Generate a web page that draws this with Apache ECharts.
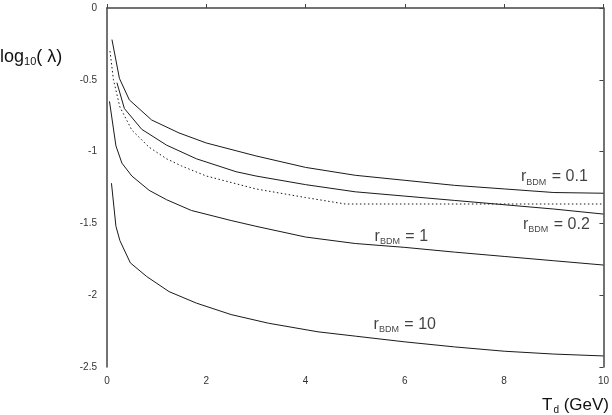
<!DOCTYPE html>
<html>
<head>
<meta charset="utf-8">
<script src="https://cdn.jsdelivr.net/npm/echarts@6/dist/echarts.min.js"></script>
<style>
  html, body { margin: 0; padding: 0; background: #fff; }
  #main { width: 612px; height: 415px; }
</style>
</head>
<body>
<div id="main"></div>
<script>
// curve r_BDM = 0.1
var xR01 = [0.1, 0.25, 0.45, 0.9, 1.45, 2, 3, 4, 5, 6, 7, 8, 9, 10];
var yR01 = [-0.22, -0.49, -0.64, -0.78, -0.87, -0.94, -1.03, -1.11, -1.165, -1.2, -1.235, -1.26, -1.285, -1.29];
// curve r_BDM = 0.2
var xR02 = [0.2, 0.35, 0.7, 1.2, 1.8, 2.6, 3, 4, 5, 6, 7, 8, 9, 10];
var yR02 = [-0.52, -0.7, -0.845, -0.955, -1.05, -1.14, -1.17, -1.23, -1.28, -1.31, -1.34, -1.37, -1.4, -1.435];
// dotted curve
var xDot = [0.06, 0.13, 0.26, 0.5, 0.85, 1.2, 1.5, 2, 2.5, 3, 4, 4.8, 10];
var yDot = [-0.3, -0.5, -0.69, -0.85, -0.97, -1.05, -1.1, -1.17, -1.215, -1.26, -1.32, -1.365, -1.365];
// curve r_BDM = 1
var xR1 = [0.05, 0.18, 0.3, 0.5, 0.85, 1.2, 1.7, 2.5, 3, 4, 5, 6, 7, 8, 9, 10];
var yR1 = [-0.65, -0.96, -1.08, -1.17, -1.27, -1.335, -1.41, -1.48, -1.52, -1.595, -1.64, -1.667, -1.7, -1.73, -1.76, -1.79];
// curve r_BDM = 10
var xR10 = [0.09, 0.18, 0.26, 0.47, 0.8, 1.25, 1.8, 2.5, 3.25, 4.25, 5, 6, 7, 8, 9, 10];
var yR10 = [-1.22, -1.52, -1.62, -1.775, -1.87, -1.975, -2.055, -2.135, -2.195, -2.255, -2.285, -2.325, -2.36, -2.39, -2.41, -2.423];

// curve labels
var curveNames = ['0.1', '0.2', '1', '10'];
var labelX = [8.34, 8.38, 5.39, 5.37];
var labelY = [-1.177, -1.511, -1.59, -2.207];

var xTicks = [0, 2, 4, 6, 8, 10];
var yTicks = [0, -0.5, -1, -1.5, -2, -2.5];

function zip(xs, ys) {
  return xs.map(function (x, i) { return [x, ys[i]]; });
}

var FONT = '"Liberation Sans", Arial, sans-serif';
var lineColor = '#1a1a1a';

var chart = echarts.init(document.getElementById('main'), null, { renderer: 'canvas' });

function curve(data, dotted) {
  return {
    type: 'line',
    data: data,
    showSymbol: false,
    symbol: 'none',
    animation: false,
    lineStyle: {
      color: lineColor,
      width: 1,
      type: dotted ? [1.5, 2.5] : 'solid'
    }
  };
}

var richLbl = {
  a: { fontFamily: FONT, fontSize: 16, color: '#111' },
  s: { fontFamily: FONT, fontSize: 9, color: '#111', padding: [10, 1, 0, 0] }
};

var option = {
  backgroundColor: '#fff',
  animation: false,
  grid: { left: 107, right: 5, top: 8, bottom: 48 },
  xAxis: {
    type: 'value',
    min: xTicks[0],
    max: xTicks[xTicks.length - 1],
    interval: 2,
    axisLine: { show: true, lineStyle: { color: '#444', width: 1.5 } },
    axisTick: { show: true, inside: true, length: 4, lineStyle: { color: '#444' } },
    axisLabel: { fontFamily: FONT, fontSize: 10, color: '#333', margin: 9 },
    splitLine: { show: false }
  },
  yAxis: [{
    type: 'value',
    min: yTicks[yTicks.length - 1],
    max: yTicks[0],
    interval: 0.5,
    axisLine: { show: true, lineStyle: { color: '#444', width: 1.5 } },
    axisTick: { show: false },
    axisLabel: { fontFamily: FONT, fontSize: 10, color: '#333', margin: 10 },
    splitLine: { show: false }
  }, {
    type: 'value',
    position: 'right',
    min: yTicks[yTicks.length - 1],
    max: yTicks[0],
    interval: 0.5,
    axisLine: { show: true, lineStyle: { color: '#444', width: 1.5 } },
    axisTick: { show: true, inside: true, length: 4, lineStyle: { color: '#444' } },
    axisLabel: { show: false },
    splitLine: { show: false }
  }],
  series: [
    curve(zip(xR01, yR01)),
    curve(zip(xR02, yR02)),
    curve(zip(xDot, yDot), true),
    curve(zip(xR1, yR1)),
    curve(zip(xR10, yR10)),
    {
      type: 'scatter',
      symbolSize: 0,
      animation: false,
      silent: true,
      data: curveNames.map(function (n, i) {
        return { value: [labelX[i], labelY[i]], name: n };
      }),
      label: {
        show: true,
        position: 'right',
        distance: 0,
        formatter: function (p) { return '{a|r}{s|BDM}{a| = ' + p.name + '}'; },
        rich: richLbl
      }
    }
  ],
  graphic: [
    {
      type: 'text',
      left: 0,
      top: 48,
      style: {
        text: '{a|log}{s|10}{a|( λ)}',
        rich: {
          a: { fontFamily: FONT, fontSize: 18, fill: '#111' },
          s: { fontFamily: FONT, fontSize: 11, fill: '#111', padding: [10, 0, 0, 0] }
        }
      }
    },
    {
      type: 'text',
      right: 3,
      top: 397,
      style: {
        text: '{a|T}{s|d}{a| (GeV)}',
        rich: {
          a: { fontFamily: FONT, fontSize: 17, fill: '#111' },
          s: { fontFamily: FONT, fontSize: 10, fill: '#111', padding: [10, 0, 0, 1] }
        }
      }
    }
  ]
};

chart.setOption(option);
</script>
</body>
</html>
